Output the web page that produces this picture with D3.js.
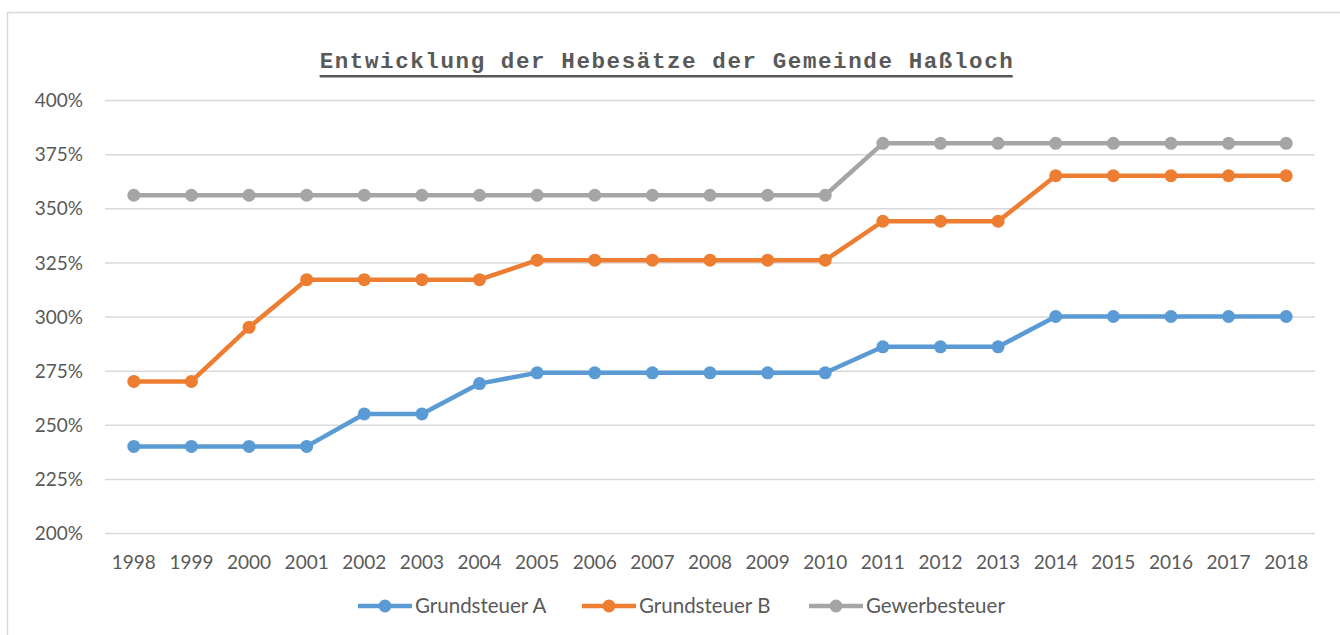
<!DOCTYPE html>
<html>
<head>
<meta charset="utf-8">
<script src="https://cdn.jsdelivr.net/npm/d3@7"></script>
<style>
html,body{margin:0;padding:0;background:#fff;}
svg{display:block;}
</style>
</head>
<body>
<svg id="chart" width="1340" height="635"></svg>
<script>
const years = ["1998","1999","2000","2001","2002","2003","2004","2005","2006","2007","2008","2009","2010","2011","2012","2013","2014","2015","2016","2017","2018"];
const grundsteuerA = [240,240,240,240,255,255,269,274,274,274,274,274,274,286,286,286,300,300,300,300,300];
const grundsteuerB = [270,270,295,317,317,317,317,326,326,326,326,326,326,344,344,344,365,365,365,365,365];
const gewerbesteuer = [356,356,356,356,356,356,356,356,356,356,356,356,356,380,380,380,380,380,380,380,380];
const yTicks = [200,225,250,275,300,325,350,375,400];
const seriesNames = ["Grundsteuer A","Grundsteuer B","Gewerbesteuer"];
const seriesColors = ["#5B9BD5","#ED7D31","#A5A5A5"];
const titleText = "Entwicklung der Hebesätze der Gemeinde Haßloch";

(function(){
const series = [grundsteuerA, grundsteuerB, gewerbesteuer].map((v,i)=>({name:seriesNames[i], color:seriesColors[i], values:v}));

const svg = d3.select("#chart");
const font = "Lato, 'Liberation Sans', sans-serif";

// outer frame
svg.append("rect").attr("x",7.5).attr("y",12.5).attr("width",1360).attr("height",640)
  .attr("fill","none").attr("stroke","#D9D9D9").attr("stroke-width",1.5);

const pL = 105, pR = 1315, pT = 100, pB = 533;
const x = d3.scaleBand().domain(years).range([pL,pR]);
const y = d3.scaleLinear().domain([200,400]).range([pB,pT]);

// grid
const yAxis = d3.axisLeft(y).tickValues(yTicks).tickSize(-(pR-pL)).tickFormat(d=>d+"%").tickPadding(22);
const gy = svg.append("g").attr("transform",`translate(${pL},0)`).call(yAxis);
gy.select(".domain").remove();
gy.selectAll(".tick line").attr("stroke","#D9D9D9").attr("stroke-width",1.5);
gy.selectAll(".tick text").attr("fill","#595959").attr("font-family",font).attr("font-size",19).attr("dy","0.35em");

// x axis labels
const xAxis = d3.axisBottom(x).tickSize(0).tickPadding(23);
const gx = svg.append("g").attr("transform",`translate(0,${pB})`).call(xAxis);
gx.select(".domain").remove();
gx.selectAll(".tick text").attr("fill","#595959").attr("font-family",font).attr("font-size",19);

// lines
const line = d3.line().x((d,i)=>x(years[i])+x.bandwidth()/2).y(d=>y(d));
series.forEach(s=>{
  svg.append("path").datum(s.values).attr("d",line).attr("fill","none")
    .attr("stroke",s.color).attr("stroke-width",4.5).attr("stroke-linejoin","round");
  svg.append("g").selectAll("circle").data(s.values).join("circle")
    .attr("cx",(d,i)=>x(years[i])+x.bandwidth()/2).attr("cy",d=>y(d)).attr("r",6.5)
    .attr("fill",s.color);
});

// title
const title = svg.append("text").attr("x",667).attr("y",68).attr("text-anchor","middle")
  .attr("font-family","'Liberation Mono','Courier New',monospace").attr("font-weight","bold")
  .attr("font-size",22.5).attr("letter-spacing","1.6px").attr("fill","#595959").text(titleText);
const bb = title.node().getBBox();
svg.append("rect").attr("x",bb.x).attr("y",75).attr("width",bb.width-1.6).attr("height",2.5).attr("fill","#595959");

// legend
const legendX = [358, 582, 809];
series.forEach((s,i)=>{
  const g = svg.append("g").attr("transform",`translate(${legendX[i]},606)`);
  g.append("line").attr("x1",0).attr("x2",54).attr("y1",0).attr("y2",0).attr("stroke",s.color).attr("stroke-width",4.5);
  g.append("circle").attr("cx",27).attr("cy",0).attr("r",6.5).attr("fill",s.color);
  g.append("text").attr("x",57).attr("y",0).attr("dy","0.35em").attr("fill","#595959")
    .attr("font-family",font).attr("font-size",20.5).text(s.name);
});
})();
</script>
</body>
</html>
